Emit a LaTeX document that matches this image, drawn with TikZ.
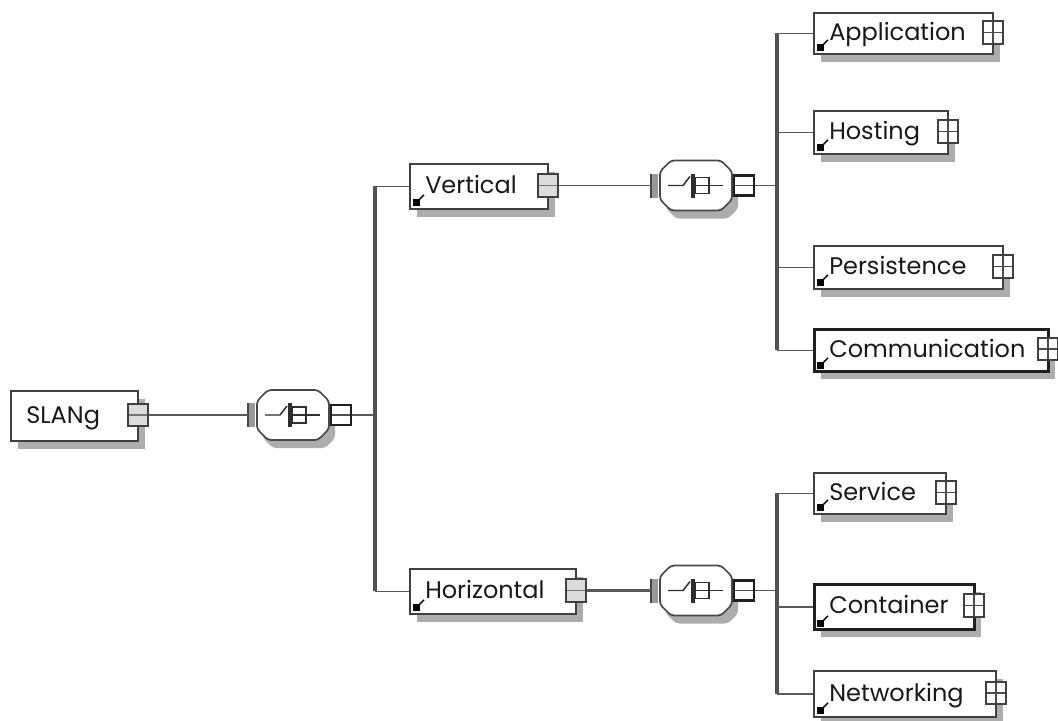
\documentclass[tikz,border=0pt]{standalone}
\usepackage{fontspec}
\setmainfont{Poppins}
\begin{document}
\begin{tikzpicture}[x=0.75pt,y=-0.75pt]
\tikzset{
  shadowfill/.style={fill=black!32},
  elbox/.style={draw=black!75, fill=white, line width=1.4pt, inner sep=0pt},
  elboxthick/.style={elbox, draw=black!88, line width=2.2pt},
  labeltext/.style={inner sep=0pt, font=\fontsize{18}{22}\selectfont, text=black!90},
  expbox/.style={draw=black!75, fill=white, line width=1.3pt, inner sep=0pt,
    minimum width=15pt, minimum height=17pt},
  expplus/.style={expbox, path picture={
    \draw[black!70, line width=1pt]
      (path picture bounding box.west) -- (path picture bounding box.east)
      (path picture bounding box.north) -- (path picture bounding box.south);}},
  expminus/.style={expbox, fill=black!14, path picture={
    \draw[black!55, line width=1.1pt]
      (path picture bounding box.west) -- (path picture bounding box.east);}},
  seqshape/.style={draw=black!72, fill=white, line width=1.3pt, rounded corners=2.5pt},
  seqbox/.style={draw=black!88, fill=white, line width=2.2pt, inner sep=0pt,
    minimum width=15pt, minimum height=15pt, path picture={
    \draw[black!70, line width=1.1pt]
      (path picture bounding box.west) -- (path picture bounding box.east);}},
  icon/.style={draw=black!82, line width=1.1pt},
  conn/.style={draw=black!65, line width=1.4pt},
  trunk/.style={draw=black!68, line width=2.6pt},
}
% element box: style, name, left, top, right, bottom, label, expander style
\newcommand\schemaelem[8]{%
  \fill[shadowfill] ({#3+8},{#4+9}) rectangle ({#5+8},{#6+9});
  \node[#1, anchor=north west, minimum width={(#5-#3)*0.75pt},
        minimum height={(#6-#4)*0.75pt}] (#2) at (#3,#4) {};
  \node[labeltext, anchor=base west] (#2-l) at ({#3+16},{(#4+#6)/2+8}) {#7};
  \node[#8] (#2-x) at ({#5+1},{(#4+#6)/2}) {};
}
% reference marker in the lower left corner of an element
\newcommand\refmark[1]{%
  \fill[black] ([shift={(4,-4)}]#1.south west) rectangle ([shift={(11,-11)}]#1.south west);
  \draw[black, line width=1.1pt] ([shift={(10,-10)}]#1.south west) -- ([shift={(15,-15)}]#1.south west);
}
% choice compositor: name, left x, centre y
\newcommand\schemachoice[3]{%
  \fill[shadowfill, rounded corners=2.5pt]
    ({#2+16},{#3-17}) -- ({#2+68},{#3-17}) -- ({#2+78},{#3-7}) -- ({#2+78},{#3+23})
    -- ({#2+68},{#3+33}) -- ({#2+16},{#3+33}) -- ({#2+6},{#3+23}) -- ({#2+6},{#3-7}) -- cycle;
  \fill[black!40] ({#2-9},{#3-12}) rectangle ({#2-2},{#3+12});
  \draw[black!72, line width=1.2pt] ({#2-9},{#3-12}) -- ({#2-9},{#3+12});
  \draw[seqshape]
    ({#2+11},{#3-25}) -- ({#2+61},{#3-25}) -- ({#2+72},{#3-14}) -- ({#2+72},{#3+14})
    -- ({#2+61},{#3+25}) -- ({#2+11},{#3+25}) -- ({#2},{#3+14}) -- ({#2},{#3-14}) -- cycle;
  \draw[icon] ({#2+8},{#3}) -- ({#2+23},{#3}) -- ({#2+30},{#3-9});
  \draw[icon, line width=3.2pt] ({#2+33},{#3-12}) -- ({#2+33},{#3+12});
  \draw[icon] ({#2+35},{#3-8}) rectangle ({#2+49},{#3+8});
  \draw[icon] ({#2+35},{#3}) -- ({#2+63},{#3});
  \coordinate (#1-in) at ({#2-9},{#3});
  \node[seqbox] (#1-x) at ({#2+84},{#3}) {};
}

\clip (0,0) rectangle (1058,721);
\fill[white] (0,0) rectangle (1058,721);

% root and its choice
\schemaelem{elbox}{slang}{10}{390}{137}{440}{SLANg}{expminus}
\schemachoice{rootchoice}{257}{415}
\coordinate (bus1) at (375,415);

% first level
\schemaelem{elbox}{vertical}{409}{163}{547}{208}{Vertical}{expminus}
\refmark{vertical}
\schemaelem{elbox}{horizontal}{409}{568}{575}{613}{Horizontal}{expminus}
\refmark{horizontal}
\schemachoice{vchoice}{660}{185.5}
\schemachoice{hchoice}{660}{590.5}
\coordinate (bus2) at (777,185.5);
\coordinate (bus3) at (777,590.5);

% second level
\schemaelem{elbox}{application}{813}{12}{992}{53}{Application}{expplus}
\refmark{application}
\schemaelem{elbox}{hosting}{813}{110}{947}{153}{Hosting}{expplus}
\refmark{hosting}
\schemaelem{elbox}{persistence}{813}{245}{1002}{288}{Persistence}{expplus}
\refmark{persistence}
\schemaelem{elboxthick}{communication}{813}{328}{1047}{370}{Communication}{expplus}
\refmark{communication}
\schemaelem{elbox}{service}{813}{472}{945}{513}{Service}{expplus}
\refmark{service}
\schemaelem{elboxthick}{container}{813}{583}{973}{628}{Container}{expplus}
\refmark{container}
\schemaelem{elbox}{networking}{813}{670}{995}{716}{Networking}{expplus}
\refmark{networking}

% connectors
\draw[conn] (slang-x.east) -- (rootchoice-in);
\draw[conn] (rootchoice-x.east) -- (bus1);
\draw[trunk] (vertical.west -| bus1) -- (horizontal.west -| bus1);
\draw[conn] (vertical.west) -- (vertical.west -| bus1);
\draw[conn] (horizontal.west) -- (horizontal.west -| bus1);

\draw[conn] (vertical-x.east) -- (vchoice-in);
\draw[conn, line width=2pt] (horizontal-x.east) -- (hchoice-in);
\draw[conn] (vchoice-x.east) -- (bus2);
\draw[conn] (hchoice-x.east) -- (bus3);

\draw[trunk] (application.west -| bus2) -- (communication.west -| bus2);
\foreach \n in {application,hosting,persistence,communication}
  \draw[conn] (\n.west) -- (\n.west -| bus2);
\draw[trunk] (service.west -| bus3) -- (networking.west -| bus3);
\foreach \n in {service,container,networking}
  \draw[conn] (\n.west) -- (\n.west -| bus3);
\end{tikzpicture}
\end{document}
